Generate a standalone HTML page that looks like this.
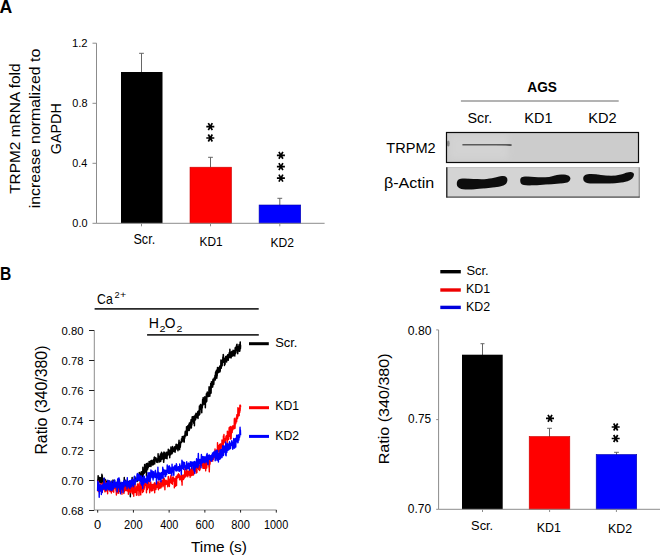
<!DOCTYPE html>
<html><head><meta charset="utf-8"><style>
html,body{margin:0;padding:0;background:#fff;}
svg{display:block;}
text{font-family:"Liberation Sans", sans-serif;}
</style></head><body>
<svg width="660" height="556" viewBox="0 0 660 556">
<rect width="660" height="556" fill="#fff"/>
<line x1="96.5" y1="43.2" x2="96.5" y2="223.3" stroke="#8c8c8c" stroke-width="1.0" />
<line x1="92.5" y1="43.2" x2="96.5" y2="43.2" stroke="#8c8c8c" stroke-width="1.0" />
<line x1="92.5" y1="103.3" x2="96.5" y2="103.3" stroke="#8c8c8c" stroke-width="1.0" />
<line x1="92.5" y1="163.3" x2="96.5" y2="163.3" stroke="#8c8c8c" stroke-width="1.0" />
<line x1="92.5" y1="223.3" x2="96.5" y2="223.3" stroke="#8c8c8c" stroke-width="1.0" />
<line x1="141.5" y1="72.5" x2="141.5" y2="53.3" stroke="#666" stroke-width="1.0" />
<line x1="139.1" y1="53.3" x2="143.9" y2="53.3" stroke="#666" stroke-width="1.0" />
<line x1="210.5" y1="167.5" x2="210.5" y2="157.3" stroke="#666" stroke-width="1.0" />
<line x1="208.1" y1="157.3" x2="212.9" y2="157.3" stroke="#666" stroke-width="1.0" />
<line x1="279.8" y1="205.5" x2="279.8" y2="198.3" stroke="#666" stroke-width="1.0" />
<line x1="277.40000000000003" y1="198.3" x2="282.2" y2="198.3" stroke="#666" stroke-width="1.0" />
<rect x="121" y="72" width="41.5" height="151.3" fill="#000"/>
<rect x="190" y="167.2" width="41.5" height="56.10000000000002" fill="#f00" stroke="#c00" stroke-width="0.6"/>
<rect x="259.1" y="205" width="41.6" height="18.30000000000001" fill="#00f" stroke="#00a" stroke-width="0.6"/>
<line x1="96.5" y1="223.3" x2="324.6" y2="223.3" stroke="#8c8c8c" stroke-width="1.0" />
<line x1="141.5" y1="223.3" x2="141.5" y2="226.3" stroke="#8c8c8c" stroke-width="1.0" />
<line x1="210.5" y1="223.3" x2="210.5" y2="226.3" stroke="#8c8c8c" stroke-width="1.0" />
<line x1="279.8" y1="223.3" x2="279.8" y2="226.3" stroke="#8c8c8c" stroke-width="1.0" />
<path d="M206.30,126.60L214.30,126.60M208.30,123.14L212.30,130.06M212.30,123.14L208.30,130.06" stroke="#000" stroke-width="1.7" fill="none"/>
<path d="M206.30,138.00L214.30,138.00M208.30,134.54L212.30,141.46M212.30,134.54L208.30,141.46" stroke="#000" stroke-width="1.7" fill="none"/>
<path d="M276.90,155.30L284.90,155.30M278.90,151.84L282.90,158.76M282.90,151.84L278.90,158.76" stroke="#000" stroke-width="1.7" fill="none"/>
<path d="M276.90,166.60L284.90,166.60M278.90,163.14L282.90,170.06M282.90,163.14L278.90,170.06" stroke="#000" stroke-width="1.7" fill="none"/>
<path d="M276.90,178.10L284.90,178.10M278.90,174.64L282.90,181.56M282.90,174.64L278.90,181.56" stroke="#000" stroke-width="1.7" fill="none"/>
<line x1="460.9" y1="101.0" x2="618.7" y2="101.0" stroke="#9a9a9a" stroke-width="1.6" />
<defs><filter id="bl" x="-5%" y="-30%" width="110%" height="160%"><feGaussianBlur stdDeviation="0.7"/></filter><filter id="bl3" x="-20%" y="-20%" width="140%" height="140%"><feGaussianBlur stdDeviation="3"/></filter><filter id="bl2" x="-5%" y="-100%" width="110%" height="300%"><feGaussianBlur stdDeviation="0.6"/></filter></defs>
<rect x="446.5" y="132.5" width="192" height="30" fill="#cccccc"/>
<rect x="450" y="135" width="58" height="24" fill="#d3d3d3" filter="url(#bl3)"/>
<path d="M462.4,144.6 L506,144.6 L511.6,145.2" stroke="#5a5a5a" stroke-width="2.0" filter="url(#bl2)"/>
<path d="M463,148.3 L511,148.3" stroke="#dadada" stroke-width="1.4" filter="url(#bl2)"/>
<path d="M463,151.8 L511,151.8" stroke="#a4a4a4" stroke-width="1.8" filter="url(#bl2)"/>
<ellipse cx="448.3" cy="143.5" rx="1.4" ry="3" fill="#8a8a8a" filter="url(#bl2)"/>
<rect x="446.5" y="132.5" width="192" height="30" fill="none" stroke="#0a0a0a" stroke-width="1.2"/>
<rect x="446.8" y="167.6" width="192.6" height="29.4" fill="#d4d4d4" stroke="#bdbdbd" stroke-width="0.9"/>
<line x1="446.8" y1="167.2" x2="446.8" y2="197.4" stroke="#111" stroke-width="1.2" />
<line x1="639.2" y1="167.4" x2="639.2" y2="197.4" stroke="#888" stroke-width="1.0" />
<line x1="446.3" y1="197.1" x2="639.7" y2="197.1" stroke="#333" stroke-width="1.0" />
<g fill="#111" filter="url(#bl)">
<path d="M456.8,184 C456.8,179.5 459.5,178.5 465,178.6 C472,178.8 478,179.4 484,179.2 C492,178.8 497,176.8 502,176.1 C506,175.7 507.6,177.5 507.4,180.3 C507.1,184 504.5,185.8 499,186.7 C491,188 482,188.4 472,189.4 C463,190.1 456.8,189 456.8,184 Z"/>
<path d="M520.2,180.5 C520.2,177 522.5,176.3 527,176.4 C533,176.7 538,177.6 545,177.3 C551,177 555,174.8 561,174.4 C567.5,174.2 570.5,175.8 570.4,178.6 C570.2,181.8 567.5,182.9 563,183.3 C555,184 548,184.6 540,185 C533,185.4 527,185.6 523.8,185.1 C521,184.6 520.2,183 520.2,180.5 Z"/>
<path d="M583.2,178.6 C583.2,175 586,173.9 591,173.9 C598,174.2 604,175.4 611,175.7 C617,175.8 622,174.5 626,172.8 C630.5,171.2 634,171.7 634,174.6 C634,177.6 631.5,179.8 627.5,181.3 C622,183 617,183.2 610,183.4 C602,183.6 595,183.6 590,183.4 C585.5,183.2 583.2,181.6 583.2,178.6 Z"/>
</g>
<line x1="94.3" y1="330.5" x2="94.3" y2="510.0" stroke="#8c8c8c" stroke-width="1.0" />
<line x1="89" y1="330.5" x2="94.3" y2="330.5" stroke="#222" stroke-width="1.0" />
<line x1="89" y1="360.5" x2="94.3" y2="360.5" stroke="#222" stroke-width="1.0" />
<line x1="89" y1="390.5" x2="94.3" y2="390.5" stroke="#222" stroke-width="1.0" />
<line x1="89" y1="420.5" x2="94.3" y2="420.5" stroke="#222" stroke-width="1.0" />
<line x1="89" y1="450.5" x2="94.3" y2="450.5" stroke="#222" stroke-width="1.0" />
<line x1="89" y1="480.5" x2="94.3" y2="480.5" stroke="#222" stroke-width="1.0" />
<line x1="89" y1="510.5" x2="94.3" y2="510.5" stroke="#222" stroke-width="1.0" />
<line x1="94.3" y1="510.0" x2="276.6" y2="510.0" stroke="#8c8c8c" stroke-width="1.0" />
<line x1="97.7" y1="510.0" x2="97.7" y2="512.6" stroke="#222" stroke-width="1.0" />
<line x1="133.42000000000002" y1="510.0" x2="133.42000000000002" y2="512.6" stroke="#222" stroke-width="1.0" />
<line x1="169.14" y1="510.0" x2="169.14" y2="512.6" stroke="#222" stroke-width="1.0" />
<line x1="204.86" y1="510.0" x2="204.86" y2="512.6" stroke="#222" stroke-width="1.0" />
<line x1="240.57999999999998" y1="510.0" x2="240.57999999999998" y2="512.6" stroke="#222" stroke-width="1.0" />
<line x1="276.3" y1="510.0" x2="276.3" y2="512.6" stroke="#222" stroke-width="1.0" />
<line x1="94.6" y1="308.9" x2="258.7" y2="308.9" stroke="#2a2a2a" stroke-width="1.7" />
<line x1="147.1" y1="334.8" x2="258.8" y2="334.8" stroke="#2a2a2a" stroke-width="1.7" />
<line x1="249.0" y1="343.7" x2="268.8" y2="343.7" stroke="#000" stroke-width="3.0" />
<line x1="249.0" y1="407.7" x2="269.0" y2="407.7" stroke="#f00" stroke-width="3.0" />
<line x1="249.0" y1="436.4" x2="269.0" y2="436.4" stroke="#00f" stroke-width="3.0" />
<polyline points="97.60,479.64 97.78,480.76 97.96,479.47 98.14,475.63 98.32,480.75 98.49,484.73 98.67,477.27 98.85,479.96 99.03,479.61 99.21,479.79 99.39,479.38 99.57,480.62 99.75,477.61 99.93,478.88 100.11,482.36 100.28,480.56 100.46,479.43 100.64,478.90 100.82,477.79 101.00,478.79 101.18,479.72 101.36,479.28 101.54,482.98 101.72,478.96 101.90,474.23 102.07,476.10 102.25,475.56 102.43,479.80 102.61,481.36 102.79,481.60 102.97,485.99 103.15,478.90 103.33,480.88 103.51,486.64 103.69,483.82 103.86,483.70 104.04,480.77 104.22,478.26 104.40,482.42 104.58,482.15 104.76,479.06 104.94,480.37 105.12,482.00 105.30,484.54 105.47,482.57 105.65,480.04 105.83,482.98 106.01,482.12 106.19,484.77 106.37,485.53 106.55,484.01 106.73,481.44 106.91,485.02 107.09,482.58 107.26,485.99 107.44,481.37 107.62,489.44 107.80,484.09 107.98,481.12 108.16,483.35 108.34,484.32 108.52,485.09 108.70,482.15 108.88,482.06 109.05,485.09 109.23,483.36 109.41,485.02 109.59,486.45 109.77,480.93 109.95,485.35 110.13,487.68 110.31,484.49 110.49,483.23 110.67,487.05 110.84,485.99 111.02,487.42 111.20,484.65 111.38,482.26 111.56,485.56 111.74,484.81 111.92,487.76 112.10,486.38 112.28,482.14 112.45,483.08 112.63,487.83 112.81,487.17 112.99,479.96 113.17,485.77 113.35,486.81 113.53,486.83 113.71,487.80 113.89,486.58 114.07,485.85 114.24,485.41 114.42,488.21 114.60,480.52 114.78,485.50 114.96,485.98 115.14,482.44 115.32,486.71 115.50,484.31 115.68,487.94 115.86,485.67 116.03,487.64 116.21,488.55 116.39,483.42 116.57,483.80 116.75,482.44 116.93,489.62 117.11,485.43 117.29,484.08 117.47,486.02 117.65,485.09 117.82,487.79 118.00,485.72 118.18,485.53 118.36,483.83 118.54,486.69 118.72,483.04 118.90,487.05 119.08,489.13 119.26,481.96 119.43,479.82 119.61,486.99 119.79,491.55 119.97,483.42 120.15,482.89 120.33,487.06 120.51,483.78 120.69,484.49 120.87,484.89 121.05,486.87 121.22,484.71 121.40,485.93 121.58,484.99 121.76,483.39 121.94,484.64 122.12,483.04 122.30,485.43 122.48,482.93 122.66,482.74 122.84,488.71 123.01,485.05 123.19,485.03 123.37,486.24 123.55,484.22 123.73,484.60 123.91,486.05 124.09,485.80 124.27,477.46 124.45,487.27 124.63,483.99 124.80,482.87 124.98,483.35 125.16,484.31 125.34,488.99 125.52,482.74 125.70,485.59 125.88,480.24 126.06,487.71 126.24,487.00 126.41,484.27 126.59,483.43 126.77,485.52 126.95,486.48 127.13,486.41 127.31,484.13 127.49,485.49 127.67,483.90 127.85,485.00 128.03,485.34 128.20,485.76 128.38,485.45 128.56,485.79 128.74,481.58 128.92,487.24 129.10,483.97 129.28,482.45 129.46,486.77 129.64,488.13 129.82,485.94 129.99,485.22 130.17,482.50 130.35,496.65 130.53,486.22 130.71,481.56 130.89,482.60 131.07,484.36 131.25,480.57 131.43,484.38 131.61,482.68 131.78,486.42 131.96,486.01 132.14,477.48 132.32,483.67 132.50,479.56 132.68,485.66 132.86,483.42 133.04,484.35 133.22,480.53 133.39,487.18 133.57,483.13 133.75,480.26 133.93,483.62 134.11,480.75 134.29,482.50 134.47,479.50 134.65,486.60 134.83,476.71 135.01,480.92 135.18,482.61 135.36,479.62 135.54,480.46 135.72,479.65 135.90,480.74 136.08,478.26 136.26,479.70 136.44,480.09 136.62,479.49 136.80,480.17 136.97,479.20 137.15,481.43 137.33,478.91 137.51,479.38 137.69,477.85 137.87,478.16 138.05,476.27 138.23,480.05 138.41,476.04 138.58,476.52 138.76,478.79 138.94,478.75 139.12,476.69 139.30,472.60 139.48,477.97 139.66,477.16 139.84,473.22 140.02,478.46 140.20,474.83 140.37,473.69 140.55,476.33 140.73,475.57 140.91,476.19 141.09,471.93 141.27,479.49 141.45,474.09 141.63,471.73 141.81,476.53 141.99,474.29 142.16,475.43 142.34,473.82 142.52,474.34 142.70,474.84 142.88,467.24 143.06,478.96 143.24,472.08 143.42,470.94 143.60,472.86 143.78,473.68 143.95,471.94 144.13,470.12 144.31,473.21 144.49,467.77 144.67,464.40 144.85,471.24 145.03,467.94 145.21,470.81 145.39,470.07 145.56,472.05 145.74,467.80 145.92,468.41 146.10,470.37 146.28,463.70 146.46,476.09 146.64,467.22 146.82,466.87 147.00,470.30 147.18,467.92 147.35,463.35 147.53,468.64 147.71,469.01 147.89,465.81 148.07,465.86 148.25,467.35 148.43,463.81 148.61,466.56 148.79,465.67 148.97,463.23 149.14,461.38 149.32,463.77 149.50,462.12 149.68,466.24 149.86,463.74 150.04,464.99 150.22,463.54 150.40,463.73 150.58,461.08 150.76,464.20 150.93,466.51 151.11,461.55 151.29,460.70 151.47,461.62 151.65,461.02 151.83,460.38 152.01,462.37 152.19,461.07 152.37,464.99 152.54,461.91 152.72,462.69 152.90,463.93 153.08,460.84 153.26,464.67 153.44,459.85 153.62,459.53 153.80,460.47 153.98,460.66 154.16,457.56 154.33,460.64 154.51,457.00 154.69,463.99 154.87,460.42 155.05,458.89 155.23,458.20 155.41,459.39 155.59,459.73 155.77,457.82 155.95,458.05 156.12,459.44 156.30,458.71 156.48,461.78 156.66,462.09 156.84,459.42 157.02,460.30 157.20,459.61 157.38,460.46 157.56,458.82 157.74,459.91 157.91,462.55 158.09,453.80 158.27,459.88 158.45,456.63 158.63,460.84 158.81,456.45 158.99,457.88 159.17,456.16 159.35,460.05 159.52,458.80 159.70,461.95 159.88,456.63 160.06,459.96 160.24,457.90 160.42,453.88 160.60,459.69 160.78,461.30 160.96,459.36 161.14,456.68 161.31,459.44 161.49,452.29 161.67,453.78 161.85,455.73 162.03,458.20 162.21,458.91 162.39,454.61 162.57,456.01 162.75,456.14 162.93,458.69 163.10,457.42 163.28,453.02 163.46,457.14 163.64,462.32 163.82,460.77 164.00,452.11 164.18,454.70 164.36,458.88 164.54,452.57 164.72,452.98 164.89,456.68 165.07,457.96 165.25,453.88 165.43,456.46 165.61,455.25 165.79,458.27 165.97,454.40 166.15,456.35 166.33,452.23 166.50,453.72 166.68,453.80 166.86,456.53 167.04,458.76 167.22,452.32 167.40,455.53 167.58,455.59 167.76,453.58 167.94,453.08 168.12,453.03 168.29,449.28 168.47,453.38 168.65,453.24 168.83,450.94 169.01,454.68 169.19,450.04 169.37,451.80 169.55,452.13 169.73,457.63 169.91,452.72 170.08,453.83 170.26,454.53 170.44,453.14 170.62,454.81 170.80,449.75 170.98,446.89 171.16,453.87 171.34,449.16 171.52,451.02 171.70,448.94 171.87,453.86 172.05,453.24 172.23,449.54 172.41,453.01 172.59,446.40 172.77,450.04 172.95,450.37 173.13,449.46 173.31,451.30 173.48,450.57 173.66,448.66 173.84,451.51 174.02,447.64 174.20,449.48 174.38,449.45 174.56,451.60 174.74,446.80 174.92,451.77 175.10,452.12 175.27,446.78 175.45,450.11 175.63,448.75 175.81,447.49 175.99,444.84 176.17,444.22 176.35,445.13 176.53,444.68 176.71,448.58 176.89,448.98 177.06,448.01 177.24,446.70 177.42,444.89 177.60,445.95 177.78,447.93 177.96,450.73 178.14,447.51 178.32,444.56 178.50,444.90 178.68,443.50 178.85,442.71 179.03,440.23 179.21,444.97 179.39,448.59 179.57,449.62 179.75,446.91 179.93,447.80 180.11,443.73 180.29,447.12 180.46,444.98 180.64,441.98 180.82,443.09 181.00,442.13 181.18,441.40 181.36,441.26 181.54,438.82 181.72,442.17 181.90,438.90 182.08,440.67 182.25,436.62 182.43,440.59 182.61,441.15 182.79,439.82 182.97,439.68 183.15,439.83 183.33,436.52 183.51,437.11 183.69,438.61 183.87,439.31 184.04,442.11 184.22,442.11 184.40,435.42 184.58,437.88 184.76,438.13 184.94,434.77 185.12,432.68 185.30,431.26 185.48,434.17 185.66,436.11 185.83,433.90 186.01,433.14 186.19,431.59 186.37,433.39 186.55,426.85 186.73,434.88 186.91,431.22 187.09,427.40 187.27,435.23 187.44,426.88 187.62,426.82 187.80,425.86 187.98,430.81 188.16,426.23 188.34,429.80 188.52,429.18 188.70,428.08 188.88,424.24 189.06,425.52 189.23,430.46 189.41,423.11 189.59,424.13 189.77,428.95 189.95,427.60 190.13,425.98 190.31,426.46 190.49,421.95 190.67,426.35 190.85,425.33 191.02,419.79 191.20,423.24 191.38,427.93 191.56,420.66 191.74,422.34 191.92,425.02 192.10,418.25 192.28,416.69 192.46,417.84 192.64,419.32 192.81,418.86 192.99,421.17 193.17,420.13 193.35,416.55 193.53,420.27 193.71,423.13 193.89,421.37 194.07,421.04 194.25,418.48 194.42,425.76 194.60,416.02 194.78,419.49 194.96,417.44 195.14,420.25 195.32,418.48 195.50,414.32 195.68,416.68 195.86,419.04 196.04,413.28 196.21,414.18 196.39,413.41 196.57,415.62 196.75,416.80 196.93,417.24 197.11,415.76 197.29,414.11 197.47,413.24 197.65,413.99 197.83,411.58 198.00,418.47 198.18,415.02 198.36,414.83 198.54,410.90 198.72,412.10 198.90,411.05 199.08,415.29 199.26,411.37 199.44,406.09 199.62,410.74 199.79,414.15 199.97,411.40 200.15,407.50 200.33,409.43 200.51,404.39 200.69,404.55 200.87,405.76 201.05,407.92 201.23,408.47 201.40,409.00 201.58,406.38 201.76,412.73 201.94,405.88 202.12,404.71 202.30,407.99 202.48,403.62 202.66,399.19 202.84,402.86 203.02,405.06 203.19,397.42 203.37,403.16 203.55,402.89 203.73,399.80 203.91,399.14 204.09,401.19 204.27,400.61 204.45,404.31 204.63,401.75 204.81,396.74 204.98,397.85 205.16,401.11 205.34,407.63 205.52,399.61 205.70,398.91 205.88,402.36 206.06,397.54 206.24,396.69 206.42,393.79 206.59,395.56 206.77,401.38 206.95,393.03 207.13,395.67 207.31,392.09 207.49,395.20 207.67,396.49 207.85,393.80 208.03,395.69 208.21,394.98 208.38,394.01 208.56,396.55 208.74,393.99 208.92,391.06 209.10,386.82 209.28,389.20 209.46,391.82 209.64,389.76 209.82,396.14 210.00,393.62 210.17,388.37 210.35,387.82 210.53,391.99 210.71,383.55 210.89,386.48 211.07,393.13 211.25,384.90 211.43,381.65 211.61,385.53 211.79,387.45 211.96,385.78 212.14,385.95 212.32,386.35 212.50,384.74 212.68,386.94 212.86,379.66 213.04,380.39 213.22,379.12 213.40,379.30 213.57,381.18 213.75,384.39 213.93,381.76 214.11,379.61 214.29,377.86 214.47,378.70 214.65,378.49 214.83,377.65 215.01,375.31 215.19,377.01 215.36,379.97 215.54,372.46 215.72,376.28 215.90,371.49 216.08,376.37 216.26,373.64 216.44,370.24 216.62,374.74 216.80,378.27 216.98,373.66 217.15,375.87 217.33,372.57 217.51,367.42 217.69,372.97 217.87,370.63 218.05,367.67 218.23,372.63 218.41,371.25 218.59,369.30 218.77,372.08 218.94,367.85 219.12,371.20 219.30,367.33 219.48,370.52 219.66,366.24 219.84,371.93 220.02,368.64 220.20,371.14 220.38,365.74 220.55,366.16 220.73,368.41 220.91,360.03 221.09,363.52 221.27,368.18 221.45,364.05 221.63,363.30 221.81,364.29 221.99,365.87 222.17,365.79 222.34,360.73 222.52,359.67 222.70,362.12 222.88,356.91 223.06,361.42 223.24,354.56 223.42,355.12 223.60,360.80 223.78,362.32 223.96,360.10 224.13,359.31 224.31,359.11 224.49,365.53 224.67,358.22 224.85,364.57 225.03,364.16 225.21,360.71 225.39,358.64 225.57,359.89 225.75,356.54 225.92,359.37 226.10,358.70 226.28,359.70 226.46,360.28 226.64,361.91 226.82,356.87 227.00,360.14 227.18,355.69 227.36,355.37 227.53,355.86 227.71,354.85 227.89,359.42 228.07,359.60 228.25,360.23 228.43,357.15 228.61,357.46 228.79,355.34 228.97,353.87 229.15,357.48 229.32,352.53 229.50,353.64 229.68,357.56 229.86,349.28 230.04,355.35 230.22,354.28 230.40,354.25 230.58,352.83 230.76,357.58 230.94,356.66 231.11,357.87 231.29,355.29 231.47,351.84 231.65,353.43 231.83,351.41 232.01,354.80 232.19,356.27 232.37,354.27 232.55,352.26 232.73,352.80 232.90,354.10 233.08,350.22 233.26,354.03 233.44,354.04 233.62,355.73 233.80,352.02 233.98,353.08 234.16,350.69 234.34,350.50 234.51,354.25 234.69,352.79 234.87,355.91 235.05,349.76 235.23,347.68 235.41,353.64 235.59,353.34 235.77,349.13 235.95,347.32 236.13,350.32 236.30,346.19 236.48,349.09 236.66,344.82 236.84,349.12 237.02,344.34 237.20,348.46 237.38,352.43 237.56,348.06 237.74,353.82 237.92,346.83 238.09,349.15 238.27,347.53 238.45,350.03 238.63,347.41 238.81,351.00 238.99,344.81 239.17,346.91 239.35,347.70 239.53,350.63 239.71,351.22 239.88,350.58 240.06,343.68 240.24,341.89 240.42,348.63 240.60,345.13" fill="none" stroke="#000" stroke-width="1.5" stroke-linejoin="round"/>
<polyline points="97.60,487.44 97.78,485.96 97.96,486.11 98.14,481.04 98.32,491.67 98.49,489.96 98.67,482.83 98.85,489.07 99.03,488.30 99.21,486.14 99.39,489.85 99.57,486.84 99.75,487.00 99.93,485.72 100.11,488.98 100.28,487.52 100.46,489.06 100.64,483.63 100.82,491.35 101.00,485.60 101.18,489.90 101.36,488.32 101.54,488.64 101.72,488.69 101.90,485.30 102.07,489.68 102.25,492.45 102.43,483.09 102.61,483.03 102.79,483.51 102.97,489.03 103.15,487.27 103.33,489.69 103.51,488.68 103.69,487.51 103.86,487.70 104.04,486.95 104.22,489.63 104.40,485.10 104.58,486.62 104.76,488.14 104.94,491.87 105.12,480.85 105.30,484.88 105.47,486.42 105.65,490.31 105.83,487.21 106.01,491.01 106.19,482.88 106.37,490.07 106.55,489.89 106.73,484.11 106.91,488.15 107.09,490.96 107.26,488.07 107.44,490.29 107.62,493.72 107.80,488.52 107.98,487.19 108.16,486.07 108.34,489.55 108.52,487.34 108.70,487.38 108.88,487.41 109.05,489.07 109.23,484.70 109.41,483.60 109.59,481.86 109.77,491.08 109.95,487.93 110.13,491.56 110.31,488.13 110.49,486.41 110.67,489.39 110.84,488.26 111.02,485.29 111.20,486.49 111.38,493.05 111.56,489.81 111.74,489.57 111.92,488.20 112.10,487.15 112.28,491.09 112.45,488.33 112.63,486.47 112.81,487.72 112.99,485.94 113.17,488.75 113.35,491.27 113.53,486.41 113.71,492.21 113.89,486.83 114.07,488.87 114.24,486.28 114.42,487.71 114.60,488.44 114.78,487.45 114.96,486.95 115.14,487.10 115.32,486.50 115.50,484.59 115.68,484.16 115.86,489.46 116.03,490.83 116.21,490.26 116.39,494.97 116.57,489.66 116.75,487.83 116.93,493.42 117.11,486.30 117.29,491.62 117.47,486.94 117.65,490.10 117.82,484.15 118.00,491.54 118.18,488.75 118.36,486.63 118.54,493.22 118.72,491.03 118.90,488.81 119.08,486.84 119.26,488.42 119.43,488.12 119.61,490.45 119.79,490.87 119.97,487.38 120.15,487.86 120.33,487.50 120.51,485.54 120.69,487.13 120.87,488.59 121.05,490.62 121.22,492.27 121.40,486.87 121.58,490.33 121.76,487.89 121.94,494.26 122.12,488.69 122.30,489.96 122.48,486.18 122.66,486.86 122.84,489.50 123.01,488.01 123.19,490.18 123.37,485.20 123.55,490.69 123.73,482.04 123.91,493.59 124.09,488.69 124.27,492.05 124.45,485.66 124.63,490.15 124.80,486.77 124.98,487.72 125.16,488.97 125.34,487.93 125.52,489.42 125.70,490.57 125.88,490.23 126.06,488.35 126.24,485.33 126.41,486.89 126.59,488.28 126.77,483.56 126.95,490.84 127.13,488.17 127.31,488.15 127.49,491.07 127.67,490.61 127.85,489.40 128.03,486.73 128.20,489.87 128.38,494.28 128.56,491.88 128.74,491.52 128.92,487.15 129.10,484.04 129.28,489.11 129.46,485.55 129.64,491.80 129.82,491.07 129.99,486.15 130.17,486.73 130.35,489.26 130.53,488.32 130.71,492.74 130.89,490.95 131.07,488.25 131.25,490.28 131.43,483.75 131.61,489.73 131.78,490.93 131.96,488.37 132.14,487.11 132.32,490.43 132.50,493.83 132.68,489.53 132.86,486.55 133.04,492.91 133.22,484.28 133.39,490.08 133.57,487.36 133.75,496.24 133.93,486.85 134.11,492.21 134.29,489.71 134.47,484.78 134.65,484.23 134.83,488.46 135.01,492.49 135.18,489.74 135.36,489.48 135.54,488.71 135.72,491.44 135.90,490.48 136.08,490.15 136.26,487.04 136.44,495.21 136.62,492.63 136.80,486.17 136.97,495.08 137.15,490.98 137.33,487.79 137.51,484.05 137.69,490.35 137.87,490.09 138.05,487.03 138.23,483.95 138.41,487.50 138.58,486.99 138.76,487.11 138.94,495.43 139.12,493.60 139.30,490.63 139.48,487.00 139.66,489.71 139.84,482.44 140.02,488.48 140.20,486.16 140.37,484.75 140.55,484.33 140.73,494.91 140.91,488.14 141.09,488.23 141.27,489.86 141.45,485.66 141.63,484.59 141.81,479.57 141.99,486.54 142.16,485.06 142.34,487.12 142.52,492.48 142.70,484.21 142.88,486.07 143.06,484.89 143.24,483.77 143.42,491.49 143.60,488.64 143.78,484.87 143.95,484.74 144.13,489.29 144.31,483.01 144.49,487.64 144.67,483.22 144.85,485.60 145.03,483.74 145.21,485.14 145.39,483.17 145.56,482.59 145.74,483.83 145.92,484.53 146.10,481.54 146.28,486.24 146.46,492.83 146.64,488.12 146.82,485.40 147.00,487.65 147.18,484.29 147.35,489.64 147.53,487.21 147.71,482.62 147.89,487.95 148.07,487.98 148.25,479.49 148.43,484.32 148.61,484.93 148.79,481.34 148.97,483.57 149.14,484.12 149.32,487.77 149.50,487.28 149.68,492.81 149.86,485.38 150.04,489.45 150.22,486.93 150.40,487.48 150.58,483.80 150.76,482.01 150.93,484.99 151.11,488.76 151.29,490.95 151.47,488.32 151.65,487.80 151.83,484.47 152.01,490.55 152.19,490.19 152.37,485.72 152.54,487.15 152.72,484.54 152.90,490.49 153.08,488.10 153.26,486.66 153.44,487.87 153.62,488.23 153.80,485.99 153.98,484.02 154.16,483.97 154.33,483.01 154.51,488.47 154.69,492.70 154.87,482.79 155.05,487.21 155.23,487.66 155.41,484.22 155.59,487.13 155.77,483.86 155.95,489.55 156.12,484.96 156.30,483.89 156.48,487.64 156.66,484.92 156.84,481.41 157.02,484.52 157.20,487.56 157.38,485.53 157.56,485.59 157.74,482.56 157.91,485.60 158.09,486.93 158.27,485.23 158.45,489.74 158.63,484.62 158.81,482.50 158.99,481.04 159.17,488.13 159.35,485.07 159.52,487.53 159.70,486.03 159.88,488.41 160.06,487.77 160.24,483.56 160.42,484.77 160.60,487.02 160.78,481.22 160.96,487.83 161.14,487.10 161.31,486.65 161.49,483.40 161.67,484.30 161.85,480.63 162.03,483.56 162.21,482.05 162.39,480.24 162.57,482.71 162.75,484.56 162.93,486.75 163.10,480.48 163.28,485.98 163.46,478.50 163.64,477.80 163.82,482.91 164.00,482.92 164.18,483.93 164.36,478.77 164.54,482.83 164.72,483.13 164.89,489.77 165.07,482.88 165.25,484.26 165.43,480.47 165.61,482.55 165.79,482.15 165.97,484.55 166.15,480.29 166.33,480.68 166.50,484.05 166.68,481.90 166.86,483.13 167.04,482.77 167.22,481.24 167.40,484.49 167.58,483.41 167.76,486.79 167.94,482.87 168.12,479.48 168.29,476.56 168.47,479.64 168.65,478.93 168.83,485.12 169.01,484.15 169.19,479.13 169.37,486.55 169.55,482.53 169.73,479.29 169.91,482.62 170.08,481.48 170.26,479.72 170.44,476.77 170.62,481.62 170.80,482.11 170.98,475.20 171.16,482.88 171.34,483.20 171.52,480.32 171.70,481.82 171.87,480.56 172.05,479.04 172.23,480.24 172.41,484.26 172.59,477.24 172.77,481.38 172.95,480.97 173.13,478.31 173.31,479.20 173.48,476.86 173.66,478.31 173.84,480.28 174.02,480.89 174.20,481.31 174.38,487.86 174.56,478.85 174.74,480.49 174.92,479.45 175.10,478.78 175.27,486.34 175.45,483.80 175.63,483.02 175.81,482.29 175.99,476.62 176.17,481.84 176.35,477.45 176.53,485.67 176.71,477.61 176.89,476.30 177.06,478.53 177.24,475.20 177.42,476.72 177.60,475.77 177.78,474.91 177.96,476.16 178.14,477.48 178.32,477.38 178.50,473.80 178.68,476.53 178.85,475.81 179.03,474.32 179.21,474.89 179.39,475.57 179.57,479.75 179.75,477.51 179.93,476.80 180.11,479.86 180.29,478.98 180.46,477.81 180.64,479.01 180.82,475.81 181.00,479.26 181.18,478.76 181.36,476.72 181.54,474.81 181.72,481.61 181.90,477.77 182.08,485.14 182.25,475.70 182.43,479.28 182.61,476.13 182.79,477.83 182.97,479.00 183.15,474.83 183.33,476.37 183.51,479.57 183.69,476.46 183.87,477.35 184.04,478.53 184.22,477.74 184.40,476.30 184.58,474.51 184.76,468.65 184.94,473.45 185.12,473.92 185.30,477.02 185.48,474.47 185.66,472.05 185.83,476.67 186.01,473.01 186.19,472.68 186.37,473.67 186.55,475.46 186.73,468.14 186.91,471.03 187.09,474.38 187.27,472.79 187.44,471.23 187.62,471.97 187.80,476.78 187.98,472.12 188.16,475.17 188.34,475.17 188.52,472.23 188.70,474.47 188.88,472.09 189.06,471.56 189.23,470.25 189.41,475.22 189.59,471.81 189.77,474.18 189.95,470.16 190.13,477.27 190.31,474.68 190.49,469.44 190.67,470.96 190.85,468.96 191.02,473.50 191.20,473.64 191.38,469.21 191.56,475.63 191.74,471.08 191.92,470.26 192.10,470.96 192.28,471.07 192.46,472.43 192.64,471.65 192.81,467.61 192.99,475.28 193.17,472.34 193.35,474.73 193.53,474.82 193.71,473.90 193.89,472.39 194.07,473.10 194.25,473.03 194.42,470.31 194.60,469.21 194.78,470.74 194.96,471.22 195.14,468.99 195.32,465.07 195.50,469.88 195.68,466.88 195.86,467.71 196.04,468.69 196.21,469.41 196.39,473.04 196.57,468.86 196.75,464.61 196.93,472.44 197.11,466.31 197.29,468.51 197.47,465.80 197.65,465.53 197.83,465.95 198.00,465.48 198.18,462.62 198.36,465.38 198.54,466.61 198.72,469.64 198.90,465.68 199.08,465.23 199.26,467.68 199.44,467.56 199.62,470.46 199.79,467.68 199.97,465.94 200.15,469.27 200.33,464.86 200.51,464.44 200.69,465.83 200.87,461.00 201.05,464.23 201.23,462.76 201.40,464.31 201.58,463.67 201.76,464.43 201.94,464.38 202.12,465.79 202.30,465.22 202.48,462.87 202.66,461.19 202.84,467.69 203.02,468.30 203.19,463.71 203.37,466.25 203.55,460.84 203.73,460.67 203.91,463.74 204.09,468.34 204.27,462.11 204.45,462.50 204.63,468.42 204.81,459.60 204.98,466.12 205.16,465.75 205.34,463.87 205.52,464.73 205.70,470.86 205.88,461.96 206.06,463.93 206.24,460.95 206.42,462.91 206.59,460.85 206.77,467.94 206.95,464.11 207.13,459.15 207.31,461.67 207.49,464.29 207.67,464.19 207.85,459.74 208.03,463.00 208.21,463.73 208.38,463.71 208.56,463.82 208.74,458.46 208.92,467.36 209.10,463.07 209.28,471.86 209.46,466.51 209.64,461.71 209.82,459.20 210.00,464.09 210.17,461.40 210.35,460.27 210.53,458.39 210.71,461.13 210.89,459.46 211.07,457.12 211.25,459.10 211.43,456.83 211.61,456.37 211.79,458.49 211.96,456.58 212.14,460.34 212.32,456.70 212.50,454.95 212.68,461.16 212.86,456.95 213.04,456.08 213.22,457.83 213.40,459.25 213.57,456.89 213.75,457.01 213.93,456.42 214.11,457.36 214.29,457.77 214.47,454.30 214.65,454.53 214.83,455.39 215.01,449.07 215.19,454.82 215.36,455.62 215.54,453.92 215.72,452.54 215.90,451.87 216.08,457.97 216.26,455.41 216.44,450.17 216.62,450.64 216.80,457.14 216.98,455.83 217.15,451.92 217.33,454.27 217.51,442.76 217.69,450.42 217.87,452.28 218.05,445.39 218.23,447.61 218.41,451.10 218.59,451.73 218.77,447.34 218.94,449.25 219.12,452.11 219.30,446.96 219.48,444.34 219.66,447.33 219.84,446.18 220.02,449.99 220.20,446.87 220.38,443.97 220.55,451.45 220.73,443.84 220.91,445.95 221.09,449.00 221.27,446.51 221.45,444.58 221.63,445.56 221.81,446.73 221.99,439.94 222.17,442.93 222.34,442.77 222.52,442.78 222.70,440.11 222.88,441.21 223.06,445.63 223.24,446.03 223.42,435.98 223.60,441.34 223.78,439.36 223.96,434.49 224.13,441.70 224.31,439.08 224.49,439.44 224.67,438.62 224.85,442.80 225.03,442.88 225.21,440.09 225.39,440.91 225.57,438.92 225.75,438.92 225.92,436.50 226.10,438.03 226.28,435.74 226.46,438.22 226.64,439.07 226.82,437.68 227.00,439.74 227.18,443.43 227.36,431.25 227.53,436.15 227.71,434.50 227.89,434.42 228.07,431.92 228.25,439.83 228.43,439.28 228.61,432.75 228.79,433.34 228.97,432.33 229.15,427.60 229.32,436.23 229.50,432.33 229.68,430.51 229.86,433.21 230.04,430.34 230.22,426.34 230.40,439.03 230.58,426.62 230.76,430.22 230.94,430.96 231.11,438.71 231.29,432.99 231.47,429.90 231.65,427.07 231.83,427.66 232.01,431.01 232.19,432.57 232.37,429.30 232.55,425.91 232.73,429.90 232.90,426.12 233.08,425.95 233.26,425.98 233.44,427.90 233.62,426.88 233.80,428.16 233.98,428.77 234.16,426.42 234.34,418.80 234.51,419.96 234.69,424.17 234.87,418.21 235.05,428.28 235.23,422.56 235.41,421.81 235.59,423.93 235.77,423.58 235.95,419.94 236.13,421.41 236.30,421.87 236.48,416.96 236.66,421.75 236.84,414.77 237.02,415.47 237.20,418.99 237.38,418.70 237.56,418.42 237.74,417.11 237.92,407.58 238.09,412.55 238.27,412.82 238.45,415.98 238.63,410.51 238.81,411.28 238.99,411.65 239.17,415.62 239.35,408.27 239.53,407.82 239.71,412.36 239.88,405.17 240.06,410.99 240.24,408.32 240.42,405.18 240.60,407.37" fill="none" stroke="#f00" stroke-width="1.4" stroke-linejoin="round"/>
<polyline points="97.60,490.90 97.78,481.09 97.96,484.28 98.14,487.14 98.32,486.89 98.49,487.55 98.67,482.49 98.85,487.33 99.03,487.97 99.21,497.24 99.39,488.17 99.57,486.61 99.75,486.82 99.93,486.16 100.11,484.75 100.28,486.64 100.46,488.88 100.64,490.83 100.82,490.41 101.00,487.14 101.18,487.55 101.36,494.44 101.54,488.43 101.72,485.27 101.90,486.23 102.07,488.43 102.25,492.16 102.43,485.95 102.61,485.89 102.79,489.47 102.97,484.27 103.15,485.77 103.33,488.65 103.51,487.99 103.69,486.69 103.86,487.95 104.04,478.22 104.22,489.09 104.40,483.89 104.58,481.78 104.76,487.34 104.94,488.74 105.12,485.51 105.30,483.69 105.47,486.71 105.65,486.62 105.83,490.47 106.01,488.68 106.19,487.07 106.37,489.71 106.55,483.07 106.73,484.24 106.91,488.63 107.09,488.59 107.26,486.45 107.44,484.84 107.62,487.84 107.80,480.09 107.98,488.90 108.16,488.03 108.34,481.99 108.52,489.87 108.70,483.79 108.88,488.53 109.05,480.79 109.23,483.99 109.41,488.15 109.59,489.51 109.77,484.19 109.95,484.53 110.13,486.48 110.31,483.93 110.49,489.96 110.67,482.12 110.84,486.53 111.02,482.71 111.20,489.96 111.38,485.83 111.56,484.74 111.74,480.92 111.92,490.61 112.10,487.82 112.28,487.63 112.45,488.52 112.63,486.19 112.81,483.76 112.99,483.56 113.17,483.32 113.35,489.13 113.53,481.43 113.71,483.73 113.89,484.40 114.07,485.79 114.24,486.59 114.42,481.57 114.60,479.87 114.78,484.52 114.96,487.48 115.14,486.15 115.32,484.68 115.50,483.27 115.68,485.00 115.86,486.77 116.03,486.53 116.21,482.23 116.39,484.98 116.57,484.20 116.75,486.08 116.93,485.16 117.11,491.88 117.29,489.07 117.47,489.17 117.65,479.06 117.82,483.85 118.00,483.35 118.18,486.51 118.36,478.23 118.54,487.68 118.72,487.59 118.90,480.87 119.08,478.01 119.26,481.94 119.43,484.23 119.61,485.92 119.79,490.02 119.97,484.17 120.15,491.77 120.33,484.80 120.51,493.78 120.69,487.03 120.87,488.92 121.05,482.15 121.22,484.51 121.40,482.64 121.58,489.09 121.76,486.63 121.94,483.95 122.12,484.01 122.30,486.52 122.48,483.25 122.66,482.67 122.84,486.66 123.01,492.43 123.19,484.56 123.37,483.68 123.55,481.76 123.73,481.02 123.91,486.10 124.09,486.86 124.27,484.46 124.45,485.10 124.63,484.37 124.80,484.63 124.98,480.28 125.16,483.50 125.34,484.84 125.52,482.01 125.70,482.84 125.88,481.69 126.06,482.92 126.24,486.42 126.41,482.98 126.59,483.59 126.77,486.41 126.95,485.74 127.13,488.84 127.31,477.63 127.49,485.74 127.67,481.79 127.85,483.33 128.03,484.81 128.20,485.36 128.38,485.15 128.56,483.02 128.74,487.10 128.92,481.64 129.10,482.10 129.28,484.86 129.46,480.75 129.64,488.28 129.82,485.25 129.99,488.45 130.17,482.23 130.35,480.87 130.53,482.64 130.71,484.21 130.89,480.45 131.07,483.06 131.25,482.12 131.43,486.68 131.61,480.06 131.78,485.09 131.96,480.41 132.14,479.27 132.32,479.65 132.50,480.79 132.68,481.99 132.86,484.59 133.04,482.51 133.22,483.96 133.39,486.68 133.57,482.47 133.75,482.20 133.93,480.77 134.11,476.87 134.29,483.50 134.47,476.09 134.65,483.18 134.83,481.02 135.01,484.58 135.18,481.22 135.36,479.27 135.54,482.49 135.72,479.90 135.90,480.64 136.08,481.21 136.26,480.51 136.44,480.19 136.62,478.03 136.80,479.74 136.97,474.63 137.15,479.90 137.33,473.48 137.51,478.67 137.69,479.97 137.87,474.23 138.05,479.90 138.23,476.35 138.41,476.37 138.58,480.60 138.76,477.77 138.94,474.24 139.12,478.36 139.30,478.61 139.48,479.26 139.66,475.55 139.84,480.73 140.02,481.25 140.20,475.86 140.37,476.92 140.55,481.43 140.73,477.08 140.91,483.71 141.09,479.20 141.27,476.07 141.45,476.77 141.63,478.83 141.81,485.35 141.99,478.24 142.16,479.33 142.34,480.36 142.52,478.67 142.70,488.59 142.88,477.53 143.06,481.13 143.24,479.34 143.42,480.77 143.60,475.61 143.78,484.04 143.95,478.94 144.13,479.20 144.31,476.45 144.49,476.91 144.67,480.41 144.85,481.75 145.03,481.13 145.21,482.31 145.39,481.07 145.56,478.86 145.74,481.01 145.92,480.37 146.10,478.60 146.28,480.78 146.46,482.22 146.64,479.16 146.82,477.45 147.00,475.85 147.18,483.51 147.35,477.31 147.53,477.61 147.71,477.38 147.89,480.72 148.07,472.58 148.25,478.56 148.43,480.82 148.61,474.98 148.79,481.30 148.97,478.59 149.14,475.50 149.32,477.62 149.50,472.58 149.68,474.81 149.86,481.76 150.04,474.16 150.22,481.10 150.40,475.57 150.58,478.60 150.76,476.07 150.93,469.86 151.11,474.38 151.29,476.43 151.47,472.90 151.65,472.11 151.83,476.93 152.01,474.24 152.19,471.03 152.37,473.46 152.54,477.80 152.72,473.96 152.90,478.05 153.08,479.94 153.26,475.55 153.44,472.23 153.62,471.63 153.80,475.12 153.98,477.77 154.16,476.11 154.33,476.95 154.51,473.91 154.69,475.91 154.87,473.56 155.05,473.93 155.23,471.48 155.41,470.32 155.59,477.40 155.77,472.06 155.95,472.71 156.12,477.35 156.30,475.26 156.48,483.89 156.66,478.30 156.84,474.00 157.02,478.16 157.20,476.90 157.38,473.94 157.56,475.80 157.74,473.69 157.91,467.26 158.09,477.92 158.27,474.09 158.45,479.91 158.63,474.09 158.81,472.35 158.99,479.94 159.17,472.63 159.35,476.10 159.52,479.57 159.70,476.20 159.88,475.60 160.06,475.99 160.24,478.25 160.42,473.33 160.60,477.28 160.78,476.88 160.96,481.77 161.14,474.31 161.31,472.41 161.49,473.93 161.67,473.66 161.85,475.38 162.03,475.15 162.21,478.11 162.39,472.90 162.57,474.22 162.75,467.30 162.93,471.80 163.10,478.22 163.28,471.83 163.46,471.37 163.64,469.43 163.82,474.30 164.00,472.76 164.18,472.17 164.36,473.73 164.54,472.51 164.72,473.86 164.89,470.12 165.07,476.81 165.25,473.12 165.43,471.48 165.61,470.38 165.79,476.18 165.97,473.78 166.15,470.50 166.33,474.07 166.50,472.60 166.68,474.34 166.86,472.94 167.04,470.17 167.22,465.04 167.40,468.58 167.58,472.25 167.76,470.60 167.94,471.32 168.12,468.50 168.29,468.73 168.47,466.76 168.65,473.37 168.83,469.92 169.01,468.07 169.19,465.59 169.37,468.74 169.55,473.20 169.73,470.42 169.91,466.98 170.08,473.09 170.26,473.17 170.44,471.96 170.62,471.32 170.80,472.54 170.98,471.07 171.16,471.74 171.34,467.59 171.52,474.30 171.70,470.83 171.87,475.62 172.05,464.22 172.23,471.52 172.41,472.15 172.59,468.31 172.77,470.33 172.95,470.90 173.13,470.16 173.31,467.07 173.48,468.19 173.66,474.50 173.84,475.22 174.02,469.39 174.20,469.05 174.38,469.71 174.56,467.90 174.74,466.19 174.92,465.48 175.10,469.51 175.27,466.25 175.45,467.86 175.63,469.64 175.81,470.74 175.99,466.12 176.17,470.97 176.35,463.76 176.53,470.49 176.71,464.64 176.89,468.21 177.06,470.83 177.24,468.02 177.42,466.90 177.60,467.76 177.78,470.12 177.96,468.57 178.14,468.72 178.32,468.44 178.50,466.78 178.68,467.34 178.85,466.68 179.03,471.24 179.21,470.64 179.39,471.24 179.57,467.69 179.75,463.88 179.93,470.12 180.11,466.80 180.29,470.33 180.46,469.98 180.64,466.02 180.82,467.97 181.00,467.42 181.18,472.34 181.36,474.60 181.54,467.09 181.72,467.06 181.90,460.30 182.08,467.23 182.25,466.39 182.43,463.33 182.61,468.50 182.79,461.49 182.97,465.35 183.15,466.51 183.33,462.75 183.51,468.92 183.69,469.45 183.87,462.55 184.04,465.97 184.22,467.26 184.40,465.67 184.58,462.36 184.76,464.78 184.94,465.20 185.12,465.15 185.30,467.75 185.48,466.27 185.66,469.92 185.83,468.83 186.01,466.79 186.19,467.81 186.37,468.78 186.55,467.20 186.73,461.76 186.91,467.43 187.09,464.77 187.27,468.69 187.44,464.21 187.62,465.48 187.80,464.77 187.98,468.35 188.16,464.21 188.34,463.20 188.52,464.99 188.70,463.16 188.88,464.94 189.06,464.45 189.23,469.23 189.41,470.09 189.59,463.56 189.77,464.99 189.95,464.13 190.13,466.58 190.31,461.64 190.49,462.91 190.67,464.72 190.85,466.24 191.02,464.42 191.20,462.94 191.38,461.85 191.56,466.01 191.74,468.72 191.92,465.58 192.10,465.36 192.28,465.95 192.46,462.22 192.64,464.01 192.81,464.43 192.99,465.93 193.17,464.91 193.35,461.84 193.53,468.58 193.71,469.90 193.89,464.22 194.07,471.09 194.25,465.81 194.42,467.69 194.60,461.44 194.78,473.46 194.96,464.08 195.14,469.00 195.32,465.85 195.50,464.20 195.68,464.72 195.86,467.17 196.04,461.79 196.21,462.96 196.39,462.53 196.57,458.76 196.75,467.07 196.93,465.14 197.11,463.14 197.29,466.35 197.47,460.63 197.65,459.58 197.83,467.68 198.00,465.34 198.18,456.43 198.36,453.40 198.54,459.88 198.72,465.87 198.90,461.39 199.08,462.06 199.26,463.92 199.44,459.38 199.62,462.58 199.79,463.90 199.97,462.78 200.15,462.07 200.33,459.42 200.51,462.25 200.69,459.42 200.87,464.14 201.05,467.71 201.23,458.67 201.40,454.49 201.58,459.14 201.76,461.17 201.94,462.82 202.12,462.99 202.30,457.59 202.48,457.66 202.66,458.22 202.84,456.40 203.02,462.37 203.19,458.93 203.37,461.71 203.55,461.75 203.73,461.87 203.91,461.72 204.09,456.62 204.27,460.10 204.45,459.15 204.63,460.52 204.81,462.85 204.98,461.59 205.16,456.95 205.34,456.98 205.52,460.97 205.70,461.03 205.88,456.68 206.06,461.90 206.24,459.43 206.42,457.73 206.59,454.77 206.77,459.12 206.95,457.73 207.13,453.44 207.31,461.52 207.49,462.89 207.67,458.94 207.85,459.54 208.03,464.69 208.21,461.47 208.38,455.18 208.56,457.23 208.74,456.90 208.92,456.65 209.10,455.66 209.28,459.28 209.46,455.02 209.64,457.13 209.82,456.35 210.00,459.32 210.17,455.99 210.35,459.14 210.53,458.22 210.71,460.77 210.89,455.69 211.07,460.77 211.25,458.00 211.43,455.56 211.61,461.27 211.79,454.75 211.96,459.27 212.14,454.85 212.32,457.81 212.50,452.90 212.68,453.80 212.86,459.22 213.04,456.72 213.22,455.93 213.40,454.82 213.57,457.16 213.75,452.06 213.93,452.88 214.11,455.51 214.29,453.52 214.47,453.82 214.65,455.59 214.83,455.69 215.01,451.00 215.19,460.76 215.36,458.88 215.54,458.98 215.72,458.12 215.90,454.07 216.08,451.40 216.26,454.96 216.44,450.17 216.62,454.17 216.80,457.88 216.98,460.30 217.15,453.28 217.33,452.72 217.51,456.60 217.69,450.37 217.87,457.89 218.05,455.02 218.23,457.69 218.41,462.07 218.59,457.11 218.77,456.32 218.94,454.66 219.12,453.22 219.30,458.04 219.48,459.35 219.66,452.62 219.84,454.30 220.02,450.13 220.20,453.41 220.38,456.26 220.55,458.75 220.73,452.04 220.91,449.77 221.09,454.29 221.27,455.36 221.45,454.84 221.63,453.69 221.81,449.27 221.99,457.60 222.17,452.04 222.34,451.78 222.52,453.83 222.70,445.58 222.88,455.84 223.06,451.86 223.24,453.10 223.42,455.50 223.60,452.91 223.78,445.98 223.96,450.06 224.13,451.74 224.31,451.42 224.49,447.35 224.67,446.34 224.85,452.26 225.03,448.37 225.21,450.01 225.39,445.28 225.57,454.98 225.75,441.94 225.92,449.05 226.10,455.81 226.28,449.46 226.46,450.28 226.64,445.91 226.82,452.42 227.00,444.71 227.18,443.69 227.36,445.85 227.53,444.90 227.71,450.47 227.89,443.85 228.07,445.80 228.25,447.28 228.43,446.38 228.61,448.56 228.79,449.76 228.97,446.29 229.15,445.61 229.32,442.30 229.50,441.75 229.68,448.96 229.86,446.07 230.04,447.94 230.22,446.15 230.40,443.60 230.58,448.43 230.76,443.16 230.94,445.73 231.11,445.61 231.29,442.65 231.47,445.24 231.65,441.02 231.83,440.81 232.01,441.26 232.19,444.32 232.37,443.44 232.55,445.12 232.73,449.26 232.90,445.25 233.08,445.98 233.26,443.71 233.44,442.92 233.62,441.13 233.80,438.39 233.98,443.73 234.16,448.22 234.34,445.10 234.51,441.80 234.69,447.91 234.87,441.99 235.05,440.84 235.23,438.82 235.41,439.23 235.59,441.27 235.77,447.06 235.95,440.59 236.13,437.90 236.30,438.73 236.48,439.39 236.66,435.32 236.84,440.12 237.02,441.79 237.20,440.85 237.38,441.09 237.56,435.55 237.74,437.92 237.92,442.88 238.09,442.38 238.27,434.72 238.45,439.59 238.63,438.90 238.81,440.17 238.99,438.79 239.17,436.21 239.35,437.73 239.53,437.30 239.71,436.42 239.88,431.12 240.06,427.21 240.24,433.07 240.42,429.97 240.60,435.18" fill="none" stroke="#00f" stroke-width="1.4" stroke-linejoin="round"/>
<line x1="438.6" y1="329.9" x2="438.6" y2="509.3" stroke="#8c8c8c" stroke-width="1.0" />
<line x1="436.2" y1="329.9" x2="438.6" y2="329.9" stroke="#8c8c8c" stroke-width="1.0" />
<line x1="436.2" y1="419.6" x2="438.6" y2="419.6" stroke="#8c8c8c" stroke-width="1.0" />
<line x1="436.2" y1="509.3" x2="438.6" y2="509.3" stroke="#8c8c8c" stroke-width="1.0" />
<line x1="482.5" y1="355" x2="482.5" y2="343.7" stroke="#666" stroke-width="1.0" />
<line x1="480.5" y1="343.7" x2="484.5" y2="343.7" stroke="#666" stroke-width="1.0" />
<line x1="549.5" y1="437" x2="549.5" y2="428.3" stroke="#666" stroke-width="1.0" />
<line x1="547.1" y1="428.3" x2="551.9" y2="428.3" stroke="#666" stroke-width="1.0" />
<line x1="616.5" y1="455" x2="616.5" y2="452.3" stroke="#666" stroke-width="1.0" />
<line x1="614.1" y1="452.3" x2="618.9" y2="452.3" stroke="#666" stroke-width="1.0" />
<rect x="462" y="354.7" width="40.7" height="154.60000000000002" fill="#000"/>
<rect x="529.2" y="436.5" width="40.6" height="72.80000000000001" fill="#f00" stroke="#c00" stroke-width="0.6"/>
<rect x="596.2" y="454.5" width="40.5" height="54.80000000000001" fill="#00f" stroke="#00a" stroke-width="0.6"/>
<line x1="438.6" y1="509.3" x2="660" y2="509.3" stroke="#8c8c8c" stroke-width="1.0" />
<line x1="482.5" y1="509.3" x2="482.5" y2="512" stroke="#8c8c8c" stroke-width="1.0" />
<line x1="549.6" y1="509.3" x2="549.6" y2="512" stroke="#8c8c8c" stroke-width="1.0" />
<line x1="616.4" y1="509.3" x2="616.4" y2="512" stroke="#8c8c8c" stroke-width="1.0" />
<path d="M546.00,418.30L554.00,418.30M548.00,414.84L552.00,421.76M552.00,414.84L548.00,421.76" stroke="#000" stroke-width="1.7" fill="none"/>
<path d="M611.70,427.00L619.70,427.00M613.70,423.54L617.70,430.46M617.70,423.54L613.70,430.46" stroke="#000" stroke-width="1.7" fill="none"/>
<path d="M611.70,438.50L619.70,438.50M613.70,435.04L617.70,441.96M617.70,435.04L613.70,441.96" stroke="#000" stroke-width="1.7" fill="none"/>
<line x1="440.3" y1="271.7" x2="460.8" y2="271.7" stroke="#000" stroke-width="3.4" />
<line x1="440.3" y1="290.0" x2="460.8" y2="290.0" stroke="#e00" stroke-width="3.4" />
<line x1="440.3" y1="307.4" x2="460.8" y2="307.4" stroke="#00d" stroke-width="3.4" />
<text x="-0.48" y="12.70" font-size="18.3" font-weight="bold" textLength="12.73" lengthAdjust="spacingAndGlyphs" fill="#000">A</text>
<text transform="translate(19.50,193.50) rotate(-90)" x="-0.38" y="0" font-size="15.2" textLength="130.40" lengthAdjust="spacingAndGlyphs" fill="#000">TRPM2 mRNA fold</text>
<text transform="translate(40.00,207.20) rotate(-90)" x="-1.04" y="0" font-size="15.2" textLength="159.44" lengthAdjust="spacingAndGlyphs" fill="#000">increase normalized to</text>
<text transform="translate(60.50,153.50) rotate(-90)" x="-0.71" y="0" font-size="15.2" textLength="50.93" lengthAdjust="spacingAndGlyphs" fill="#000">GAPDH</text>
<text x="71.94" y="47.30" font-size="11.5" textLength="15.66" lengthAdjust="spacingAndGlyphs" fill="#000">1.2</text>
<text x="72.33" y="107.40" font-size="11.5" textLength="15.14" lengthAdjust="spacingAndGlyphs" fill="#000">0.8</text>
<text x="72.33" y="167.40" font-size="11.5" textLength="15.01" lengthAdjust="spacingAndGlyphs" fill="#000">0.4</text>
<text x="72.33" y="227.10" font-size="11.5" textLength="15.14" lengthAdjust="spacingAndGlyphs" fill="#000">0.0</text>
<text x="133.43" y="244.00" font-size="13.8" textLength="21.73" lengthAdjust="spacingAndGlyphs" fill="#000">Scr.</text>
<text x="199.49" y="245.50" font-size="13.2" textLength="23.12" lengthAdjust="spacingAndGlyphs" fill="#000">KD1</text>
<text x="270.47" y="246.50" font-size="13.2" textLength="23.55" lengthAdjust="spacingAndGlyphs" fill="#000">KD2</text>
<text x="527.27" y="91.60" font-size="15.5" font-weight="bold" textLength="29.65" lengthAdjust="spacingAndGlyphs" fill="#000">AGS</text>
<text x="467.49" y="122.70" font-size="15.2" textLength="24.77" lengthAdjust="spacingAndGlyphs" fill="#000">Scr.</text>
<text x="524.31" y="122.70" font-size="15.2" textLength="28.15" lengthAdjust="spacingAndGlyphs" fill="#000">KD1</text>
<text x="588.30" y="122.70" font-size="15.2" textLength="28.36" lengthAdjust="spacingAndGlyphs" fill="#000">KD2</text>
<text x="386.34" y="152.80" font-size="15.2" textLength="49.39" lengthAdjust="spacingAndGlyphs" fill="#000">TRPM2</text>
<text x="383.94" y="188.00" font-size="15.2" textLength="50.39" lengthAdjust="spacingAndGlyphs" fill="#000">β-Actin</text>
<text x="0.03" y="280.40" font-size="18.3" font-weight="bold" textLength="11.28" lengthAdjust="spacingAndGlyphs" fill="#000">B</text>
<text x="97.07" y="303.75" font-size="14.6" textLength="15.66" lengthAdjust="spacingAndGlyphs" fill="#000">Ca</text>
<text x="114.60" y="298.30" font-size="8.6" textLength="5.14" lengthAdjust="spacingAndGlyphs" fill="#000">2</text>
<text x="119.93" y="298.30" font-size="8.6" textLength="6.26" lengthAdjust="spacingAndGlyphs" fill="#000">+</text>
<text x="148.84" y="327.90" font-size="15.2" textLength="10.20" lengthAdjust="spacingAndGlyphs" fill="#000">H</text>
<text x="159.40" y="332.30" font-size="9.0" textLength="6.01" lengthAdjust="spacingAndGlyphs" fill="#000">2</text>
<text x="164.72" y="327.90" font-size="15.2" textLength="10.71" lengthAdjust="spacingAndGlyphs" fill="#000">O</text>
<text x="176.41" y="332.30" font-size="9.0" textLength="5.88" lengthAdjust="spacingAndGlyphs" fill="#000">2</text>
<text x="61.51" y="334.65" font-size="11.6" textLength="21.93" lengthAdjust="spacingAndGlyphs" fill="#000">0.80</text>
<text x="61.51" y="364.65" font-size="11.6" textLength="21.93" lengthAdjust="spacingAndGlyphs" fill="#000">0.78</text>
<text x="61.51" y="394.65" font-size="11.6" textLength="21.93" lengthAdjust="spacingAndGlyphs" fill="#000">0.76</text>
<text x="61.52" y="424.65" font-size="11.6" textLength="21.80" lengthAdjust="spacingAndGlyphs" fill="#000">0.74</text>
<text x="61.51" y="454.65" font-size="11.6" textLength="22.05" lengthAdjust="spacingAndGlyphs" fill="#000">0.72</text>
<text x="61.51" y="484.65" font-size="11.6" textLength="21.93" lengthAdjust="spacingAndGlyphs" fill="#000">0.70</text>
<text x="61.51" y="514.65" font-size="11.6" textLength="21.93" lengthAdjust="spacingAndGlyphs" fill="#000">0.68</text>
<text x="94.06" y="528.50" font-size="12.0" textLength="7.20" lengthAdjust="spacingAndGlyphs" fill="#000">0</text>
<text x="124.09" y="528.50" font-size="12.0" textLength="18.56" lengthAdjust="spacingAndGlyphs" fill="#000">200</text>
<text x="160.16" y="528.50" font-size="12.0" textLength="18.20" lengthAdjust="spacingAndGlyphs" fill="#000">400</text>
<text x="195.53" y="528.50" font-size="12.0" textLength="18.56" lengthAdjust="spacingAndGlyphs" fill="#000">600</text>
<text x="231.37" y="528.50" font-size="12.0" textLength="18.44" lengthAdjust="spacingAndGlyphs" fill="#000">800</text>
<text x="264.01" y="528.50" font-size="12.0" textLength="24.20" lengthAdjust="spacingAndGlyphs" fill="#000">1000</text>
<text x="191.01" y="552.00" font-size="15.0" textLength="55.94" lengthAdjust="spacingAndGlyphs" fill="#000">Time (s)</text>
<text x="275.18" y="347.00" font-size="13.0" textLength="22.26" lengthAdjust="spacingAndGlyphs" fill="#000">Scr.</text>
<text x="275.23" y="410.20" font-size="12.6" textLength="23.79" lengthAdjust="spacingAndGlyphs" fill="#000">KD1</text>
<text x="275.23" y="440.20" font-size="12.6" textLength="23.79" lengthAdjust="spacingAndGlyphs" fill="#000">KD2</text>
<text transform="translate(46.60,453.30) rotate(-90)" x="-1.27" y="0" font-size="15.6" textLength="108.98" lengthAdjust="spacingAndGlyphs" fill="#000">Ratio (340/380)</text>
<text x="466.39" y="275.00" font-size="13.2" textLength="22.33" lengthAdjust="spacingAndGlyphs" fill="#000">Scr.</text>
<text x="466.02" y="292.60" font-size="12.6" textLength="24.11" lengthAdjust="spacingAndGlyphs" fill="#000">KD1</text>
<text x="466.02" y="310.80" font-size="12.6" textLength="24.11" lengthAdjust="spacingAndGlyphs" fill="#000">KD2</text>
<text x="407.79" y="335.00" font-size="12.0" textLength="23.69" lengthAdjust="spacingAndGlyphs" fill="#000">0.80</text>
<text x="408.11" y="423.40" font-size="12.0" textLength="22.96" lengthAdjust="spacingAndGlyphs" fill="#000">0.75</text>
<text x="407.80" y="513.00" font-size="12.0" textLength="23.28" lengthAdjust="spacingAndGlyphs" fill="#000">0.70</text>
<text x="471.09" y="529.70" font-size="13.2" textLength="22.11" lengthAdjust="spacingAndGlyphs" fill="#000">Scr.</text>
<text x="536.84" y="531.60" font-size="13.0" textLength="24.19" lengthAdjust="spacingAndGlyphs" fill="#000">KD1</text>
<text x="608.05" y="533.00" font-size="13.0" textLength="24.08" lengthAdjust="spacingAndGlyphs" fill="#000">KD2</text>
<text transform="translate(389.20,463.10) rotate(-90)" x="-1.28" y="0" font-size="14.2" textLength="110.97" lengthAdjust="spacingAndGlyphs" fill="#000">Ratio (340/380)</text>
</svg>
</body></html>
